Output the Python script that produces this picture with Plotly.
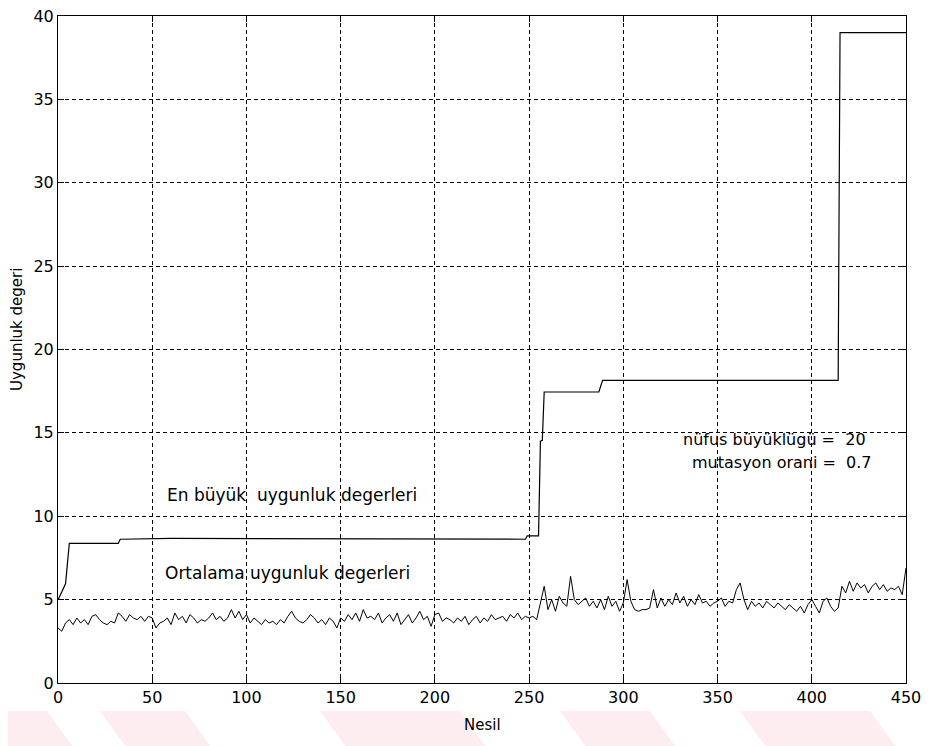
import plotly.graph_objects as go

# ---- data ----
max_gen = [0, 2, 4, 6, 32, 33, 60, 248, 249, 255, 256, 257, 258, 287, 289, 414, 415, 450]
max_fitness = [4.98, 5.5, 5.95, 8.37, 8.37, 8.62, 8.67, 8.62, 8.82, 8.82, 14.5, 14.55,
               17.45, 17.45, 18.15, 18.15, 39.0, 39.0]

mean_gen = list(range(0, 451, 2))
mean_fitness = [
    3.3, 3.1, 3.6, 3.8, 3.5, 3.9, 3.6, 3.8, 3.5, 4.0, 4.1, 3.8, 3.6, 3.5, 3.7, 3.6, 4.2, 4.0, 3.7, 4.1, 3.9, 3.8, 4.0, 3.7, 4.0,
    3.9, 3.3, 3.6, 3.7, 3.9, 3.5, 4.2, 3.8, 4.0, 3.6, 4.1, 3.9, 3.6, 3.8, 3.7, 3.9, 4.2, 3.8, 4.0, 3.7, 3.9, 4.4, 3.9, 4.3, 3.8,
    4.1, 3.6, 3.9, 3.7, 3.5, 3.8, 3.6, 3.7, 3.5, 3.8, 3.6, 4.0, 4.3, 3.9, 3.7, 3.6, 3.8, 4.1, 3.9, 3.6, 3.8, 3.5, 3.9, 3.7, 3.3,
    3.9, 3.7, 4.1, 3.8, 4.2, 3.7, 4.4, 3.9, 4.0, 3.8, 4.2, 3.6, 3.9, 4.1, 3.7, 4.2, 3.5, 3.8, 4.1, 3.6, 3.9, 4.3, 3.8, 4.0, 3.4,
    4.1, 4.2, 3.7, 3.9, 3.8, 3.6, 3.9, 3.7, 4.0, 3.5, 3.8, 4.0, 3.6, 3.9, 3.7, 4.1, 3.8, 3.9, 4.0, 3.7, 4.1, 3.9, 4.2, 3.8, 4.0,
    3.9, 4.0, 3.8, 4.9, 5.8, 4.4, 5.0, 4.3, 5.2, 4.8, 4.6, 6.4, 5.0, 4.7, 4.9, 5.1, 4.6, 4.9, 4.5, 5.0, 4.4, 5.2, 4.6, 4.9, 4.3,
    4.8, 6.2, 4.9, 4.4, 4.3, 4.4, 4.4, 4.5, 5.6, 4.5, 5.1, 4.6, 5.0, 4.7, 5.4, 4.8, 5.2, 4.6, 5.0, 4.7, 5.3, 4.8, 4.9, 4.6, 4.8,
    4.9, 5.1, 4.6, 4.9, 4.8, 5.6, 6.0, 5.0, 4.4, 4.9, 4.6, 4.8, 4.5, 4.9, 4.7, 4.5, 4.8, 4.6, 4.4, 4.7, 4.5, 4.3, 4.6, 4.2, 4.7,
    5.0, 4.6, 4.2, 4.9, 5.1, 4.6, 4.3, 4.5, 5.8, 5.4, 6.1, 5.5, 6.0, 5.7, 5.9, 5.4, 5.8, 6.0, 5.6, 5.9, 5.5, 5.7, 5.6, 5.8, 5.3, 6.9,
]

x_ticks = [0, 50, 100, 150, 200, 250, 300, 350, 400, 450]
y_ticks = [0, 5, 10, 15, 20, 25, 30, 35, 40]

label_max = "En büyük  uygunluk degerleri"
label_mean = "Ortalama uygunluk degerleri"
info_lines = ["nüfus büyüklügü =  20", "mutasyon orani =  0.7"]
x_title = "Nesil"
y_title = "Uygunluk degeri"

FONT = "DejaVu Sans"

# the page has an 8px body margin: the figure starts at (8, 8) on screen
W, H = 921, 738
OFF = 8
L, R, T, B = 50, 23, 8, 63
PW, PH = W - L - R, H - T - B


def px(xs):  # screen x pixel -> paper x
    return (xs - OFF - L) / PW


def py(ys):  # screen y pixel -> paper y
    return (H - B - (ys - OFF)) / PH


fig = go.Figure()
fig.add_trace(go.Scatter(x=max_gen, y=max_fitness, mode="lines",
                         line=dict(color="black", width=1.2), showlegend=False))
fig.add_trace(go.Scatter(x=mean_gen, y=mean_fitness, mode="lines",
                         line=dict(color="black", width=1), showlegend=False))

# text labels
fig.add_annotation(x=56.6, y=11.26, text=label_max, showarrow=False,
                   xanchor="left", yanchor="middle", font=dict(family=FONT, size=17, color="black"))
fig.add_annotation(x=55.6, y=6.6, text=label_mean, showarrow=False,
                   xanchor="left", yanchor="middle", font=dict(family=FONT, size=17, color="black"))
fig.add_annotation(x=330.4, y=14.6, text=info_lines[0], showarrow=False,
                   xanchor="left", yanchor="middle", font=dict(family=FONT, size=16, color="black"))
fig.add_annotation(x=335.2, y=13.24, text=info_lines[1], showarrow=False,
                   xanchor="left", yanchor="middle", font=dict(family=FONT, size=16, color="black"))

# axis titles
fig.add_annotation(xref="paper", yref="paper", x=px(482), y=py(725), text=x_title,
                   showarrow=False, xanchor="center", yanchor="middle",
                   font=dict(family=FONT, size=15, color="black"))
fig.add_annotation(xref="paper", yref="paper", x=px(17), y=py(330), text=y_title,
                   showarrow=False, xanchor="center", yanchor="middle", textangle=-90,
                   font=dict(family=FONT, size=15, color="black"))

# faint watermark stripes below the axes (decoration of the scanned page)
stripes = [(-40, 47), (100, 185), (320, 460), (560, 650), (740, 870)]
for a, b in stripes:
    path = (f"M {px(a)},{py(711)} L {px(b)},{py(711)} "
            f"L {px(b + 31)},{py(754)} L {px(a + 31)},{py(754)} Z")
    fig.add_shape(type="path", path=path, xref="paper", yref="paper",
                  fillcolor="rgba(250,215,222,0.45)", line=dict(width=0), layer="below")

axis_common = dict(
    showline=True, linecolor="black", linewidth=1, mirror="allticks",
    ticks="inside", ticklen=6, tickcolor="black", automargin=False,
    ticklabeloverflow="allow",
    showgrid=True, gridcolor="black", gridwidth=1, griddash="4px,3px",
    zeroline=False, tickfont=dict(family=FONT, size=16, color="black"),
)

fig.update_xaxes(range=[0, 450], tickvals=x_ticks, ticktext=[str(v) for v in x_ticks],
                 **axis_common)
fig.update_yaxes(range=[0, 40], tickvals=y_ticks, ticktext=[str(v) for v in y_ticks],
                 **axis_common)

fig.update_layout(
    width=W, height=H,
    margin=dict(l=L, r=R, t=T, b=B),
    paper_bgcolor="white", plot_bgcolor="white",
    font=dict(family=FONT, color="black"),
)

fig.write_html("out.html")
